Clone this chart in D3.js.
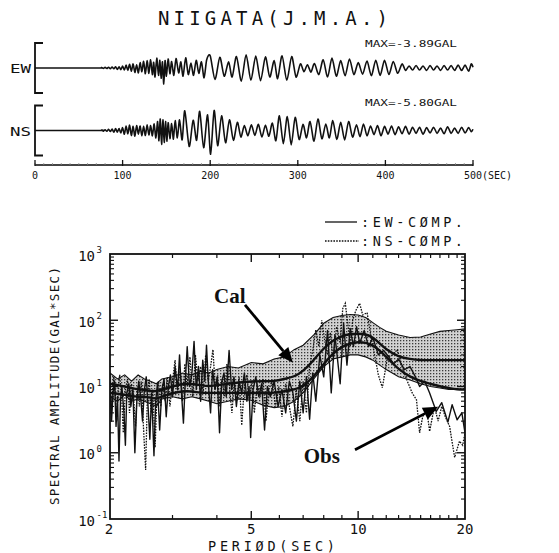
<!DOCTYPE html>
<html><head><meta charset="utf-8">
<script src="https://cdn.jsdelivr.net/npm/d3@7"></script>
<style>
html,body{margin:0;padding:0;background:#fff;}
svg{display:block;}
text{font-family:"DejaVu Sans Mono",monospace;fill:#111;}
</style></head>
<body>
<svg id="c" width="559" height="553"></svg>
<script>
// ---------------- DATA ----------------
const title = "NIIGATA(J.M.A.)";
const timeTicks = [0,100,200,300,400,500];
const maxEW = "MAX=-3.89GAL";
const maxNS = "MAX=-5.80GAL";

// accelerogram extrema [time (s), acceleration (gal)]
const waveEW = [[0,0],[70,0],[76,0.1],[78,-0.1],[80,0.15],[82,-0.12],[84,0.2],[86,-0.2],[88,0.25],[90,-0.2],[92,0.3],[94,-0.35],[96,0.3],[98,-0.4],[100,0.45],
[102,-0.5],[104,0.7],[106,-0.6],[108,0.9],[110,-0.8],[112,1.0],[114,-1.1],[116,0.8],[118,-1.2],[120,1.3],[122,-0.9],[124,1.6],[126,-1.4],
[128,1.8],[130,-1.3],[132,2.0],[134,-1.6],[135.5,1.4],[137,-2.2],[139,2.4],[141,-1.8],[142.5,1.9],[144,-2.5],[145.5,1.5],[147,-3.89],[148.5,1.8],[150,-2.0],[152,2.2],[154,-1.4],[156,1.6],[158.5,-1.8],
[161,2.3],[164,-1.2],[166.5,1.5],[169,-2.0],[172,2.5],[175,-1.6],[178,1.2],[181,-1.8],[184,1.9],[187,-1.3],[190,1.5],[193,-2.4],[196,2.0],
[200,3.0],[205.5,-2.8],[211,2.6],[216,-2.0],[221,1.5],[225,-2.2],[230,2.8],[235.5,-3.2],[241,3.2],[246.5,-3.0],[252,2.9],[257.5,-3.1],[263,2.7],[268,-2.2],[273,1.8],[277,-2.6],[282,3.0],[287.5,-3.0],[293,2.8],[298,-2.2],
[303,1.0],[307,-0.9],[311,0.8],[315,-1.0],[319,1.1],
[324,-1.6],[329,2.0],[334,-2.2],[339,2.4],[344,-2.0],[349,1.8],[354,-1.9],[359,2.2],[364,-1.6],[369,1.3],
[374,-1.5],[379,1.7],[384,-1.9],[389,1.9],[394,-1.8],[399,1.9],[404,-1.6],[409,1.6],[414,-1.3],[419,1.0],
[423,-0.6],[427,0.5],[431,-0.5],[435,0.6],[439,-0.5],[443,0.5],[447,-0.6],[451,0.6],[455,-0.5],[459,0.5],[463,-0.6],[467,0.6],[471,-0.5],[475,0.6],[479,-0.6],[483,0.7],[487,-0.6],[491,0.7],[495,-0.8],[498,1.0],[500,0.2]];

const waveNS = [[0,0],[72,0],[76,0.1],[78,-0.15],[80,0.2],[82,-0.2],[84,0.3],[86,-0.25],[88,0.35],[90,-0.4],[92,0.45],[94,-0.4],[96,0.5],[98,-0.6],[100,0.7],
[102,-0.9],[104,1.1],[106,-0.8],[108,1.3],[110,-1.2],[112,1.0],[114,-1.4],[116,1.2],[118,-0.9],[120,1.1],[122,-1.3],[124,1.0],[126,-1.2],[128,1.4],[130,-1.1],[132,1.2],[134,-1.3],[136,1.6],[138,-1.8],
[140,2.2],[141.5,-2.5],[143,2.8],[144.5,-3.4],[146,2.6],[147.5,-2.9],[149,2.2],[150.5,-2.6],[152,1.9],[154,-2.0],[156,1.7],[158,-2.1],[160,2.4],[162.5,-1.8],[165,2.6],[168,-2.3],
[171,4.8],[176,-3.9],[180.5,2.5],[184.5,-2.4],[188,4.7],[192.5,-4.2],[197,3.8],[200.5,-5.8],[204.5,4.9],[208.5,-3.7],[213,3.6],[217.5,-3.0],[222,2.6],[226.5,-2.4],[231,2.0],[235,-1.6],
[239,1.2],[243,-1.3],[247,1.4],[251,-1.2],[255,1.5],[259,-1.6],[263,1.3],[267,-1.4],[271,1.8],[275,-2.5],[279,3.6],[283.5,-3.2],[288,3.4],[292.5,-3.5],[297,3.2],[301.5,-2.2],
[306,1.5],[310,-1.8],[314,2.2],[318.5,-2.6],[323,2.8],[327.5,-2.0],[332,1.6],[336,-1.8],[340,2.4],[344.5,-2.2],[349,2.0],[353.5,-2.3],[358,2.2],[362.5,-1.6],[367,1.4],[371,-1.5],[375,1.6],[379,-1.3],
[383,1.1],[387,-1.0],[391,1.2],[395,-1.3],[399,1.0],[403,-0.9],[407,1.1],[411,-1.0],[415,0.9],[419,-0.8],[423,1.0],[427,-0.9],[431,0.8],[435,-0.7],[439,0.8],[443,-0.9],[447,0.7],[451,-0.6],[455,0.8],[459,-0.7],[463,0.6],[467,-0.8],[471,0.9],[475,-0.7],[479,0.6],[483,-0.7],[487,0.8],[491,-0.6],[495,0.7],[498,-0.3],[500,0.3]];

// spectral plot
const periodTicks = [2,5,10,20];
const ampTicks = [0.1,1,10,100,1000];
const calT     = [2.0,2.1,2.2,2.3,2.4,2.5,2.6,2.7,2.8,3.0,3.2,3.4,3.6,3.8,4.0,4.3,4.6,5.0,5.4,5.8,6.2,6.6,7.0,7.5,8.0,8.5,9.0,9.5,10,10.5,11,11.5,12,13,14,15,16,17,18,19,20];
const calUpper = [16,13,15,12,15,13,12,11,13,14,16,15,17,16,18,20,19,23,22,26,28,36,42,60,90,110,118,122,120,110,92,78,68,60,55,56,62,68,70,72,74];
const calLower = [7,6,7.5,6,6.5,6,5.5,5,6.5,7,6.5,7,6.5,6,5.5,6,6.5,6.2,5.2,4.8,5.0,6.0,8,13,20,26,28,30,30,28,25,21,18,14,12.5,11,10,9.5,9,9,9];
const calEW    = [11,10.5,10,9.5,9,9,8.5,8.5,9,10,11,11,10.5,10,10.5,11,11.5,12,12,12,13,14,17,25,38,50,58,62,63,62,55,45,36,28,26,25,25,25,25,25,25];
const calNS    = [8,7.8,7.5,7.2,7,7,6.8,6.5,7,8,8.5,8.5,8,8,8,8,8,8,8,8,8.5,9,10,14,22,32,40,45,47,46,42,35,28,18,14,12,11,10,9.5,9,9];

// observed spectra [period (s), amplitude (gal*sec)]
const obsEW = [[2.00,9],[2.02,3],[2.04,8],[2.06,12],[2.08,2.5],[2.10,7],[2.12,0.75],[2.14,6],[2.16,10],[2.19,4],[2.21,1.3],[2.23,8],[2.26,11],[2.29,5],[2.32,9],[2.35,1.0],[2.38,6],[2.41,12],[2.44,7],[2.47,3],[2.50,9],[2.53,14],[2.56,5],[2.59,1.6],[2.62,8],[2.66,0.9],[2.69,6],[2.72,11],[2.76,2.2],[2.80,9],[2.84,13],[2.88,3.5],[2.92,10],[2.96,15],[3.00,7],[3.05,20],[3.10,9],[3.14,30],[3.18,8],[3.22,2.8],[3.26,12],[3.30,40],[3.35,10],[3.40,15],[3.45,48],[3.50,9],[3.55,20],[3.60,6],[3.65,25],[3.70,12],[3.74,42],[3.79,10],[3.84,4],[3.89,18],[3.95,9],[4.01,14],[4.07,2.0],[4.13,12],[4.19,16],[4.25,7],[4.33,35],[4.40,9],[4.47,14],[4.54,5],[4.62,12],[4.70,8],[4.78,16],[4.86,6],[4.93,10],[4.98,1.7],[5.06,9],[5.15,14],[5.25,7],[5.35,11],[5.45,2.2],[5.55,10],[5.66,7],[5.80,12],[5.95,5],[6.10,9],[6.25,4],[6.40,12],[6.55,8],[6.70,3.0],[6.85,12],[7.00,4],[7.15,14],[7.30,3.2],[7.45,16],[7.60,6],[7.80,30],[8.00,14],[8.20,70],[8.40,8],[8.60,60],[8.90,11],[9.10,90],[9.30,21],[9.50,75],[9.70,40],[9.90,80],[10.1,45],[10.4,70],[10.7,40],[11.0,55],[11.4,30],[11.8,35],[12.2,28],[12.6,22],[13.0,26],[13.5,18],[14.0,20],[14.5,14],[14.9,10],[15.4,12],[15.9,8],[16.6,4.2],[17.2,5.7],[17.9,2.9],[18.4,5.3],[19.0,3.15],[19.6,4.0],[20.0,2.0]];

const obsNS = [[2.00,12],[2.02,5],[2.05,14],[2.07,8],[2.09,3],[2.11,10],[2.13,15],[2.16,6],[2.18,2.0],[2.21,9],[2.24,13],[2.27,4],[2.30,11],[2.33,7],[2.36,2.5],[2.39,10],[2.42,5],[2.45,12],[2.48,3],[2.52,0.55],[2.55,8],[2.58,13],[2.61,4],[2.64,9],[2.68,1.2],[2.71,7],[2.74,12],[2.78,5],[2.82,11],[2.86,6],[2.90,14],[2.95,5],[3.00,12],[3.05,25],[3.10,8],[3.15,18],[3.20,6],[3.25,22],[3.30,10],[3.36,28],[3.42,7],[3.48,30],[3.54,12],[3.60,20],[3.66,8],[3.72,30],[3.78,12],[3.84,20],[3.90,36],[3.96,9],[4.02,15],[4.08,5],[4.14,13],[4.20,7],[4.27,22],[4.34,10],[4.41,4],[4.48,12],[4.55,6],[4.62,14],[4.70,2.6],[4.78,10],[4.86,15],[4.94,6],[5.02,12],[5.10,4],[5.20,11],[5.30,7],[5.40,13],[5.50,3],[5.60,9],[5.72,12],[5.85,5],[5.98,10],[6.10,3.5],[6.25,11],[6.40,5],[6.55,2.5],[6.70,9],[6.85,3],[7.00,12],[7.15,4],[7.30,20],[7.45,35],[7.60,72],[7.75,40],[7.90,100],[8.05,50],[8.20,30],[8.35,65],[8.50,25],[8.70,80],[8.90,45],[9.05,150],[9.20,180],[9.35,90],[9.50,40],[9.65,100],[9.85,140],[10.1,180],[10.3,120],[10.6,130],[10.85,60],[11.1,32],[11.4,15],[11.7,9.6],[12.1,28],[12.5,30],[12.9,36],[13.3,20],[13.7,12.7],[14.2,8],[14.6,6.3],[14.9,2.0],[15.2,3.5],[15.6,4.5],[15.9,2.1],[16.4,5],[16.8,3],[17.2,5],[17.6,3.5],[18.1,2.5],[18.7,0.85],[19.3,1.5],[19.7,1.3],[20.0,2.0]];

// annotation anchors [period, amplitude]
const calLabel = [4.35,235], calArrow = [[4.8,171],[6.55,22.8]];
const obsLabel = [7.9,0.9],  obsArrow = [[9.8,1.11],[16.8,4.95]];

// ---------------- DRAW ----------------
const svg = d3.select("#c");

// ---- top: accelerograms ----
const xT = d3.scaleLinear().domain([0,500]).range([35,473]);
const yEW = d3.scaleLinear().domain([-6.1,6.1]).range([93,43]);
const yNS = d3.scaleLinear().domain([-6.1,6.1]).range([155.5,105.5]);

svg.append("text").attr("x",158).attr("y",25).attr("font-size",19)
  .attr("textLength",230).attr("lengthAdjust","spacing").text(title);

function bracket(y0,y1){
  svg.append("path").attr("d",`M43,${y0}H35V${y1}H43`).attr("fill","none")
    .attr("stroke","#111").attr("stroke-width",1.8);
}
bracket(yEW(6.1),yEW(-6.1));
bracket(yNS(6.1),yNS(-6.1));
svg.append("text").attr("x",10).attr("y",yEW(0)+5).attr("font-size",13)
  .attr("textLength",21).attr("lengthAdjust","spacingAndGlyphs").text("EW");
svg.append("text").attr("x",10).attr("y",yNS(0)+5).attr("font-size",13)
  .attr("textLength",21).attr("lengthAdjust","spacingAndGlyphs").text("NS");
svg.append("text").attr("x",365).attr("y",46.5).attr("font-size",9.5)
  .attr("textLength",92).attr("lengthAdjust","spacingAndGlyphs").text(maxEW);
svg.append("text").attr("x",365).attr("y",105.5).attr("font-size",9.5)
  .attr("textLength",92).attr("lengthAdjust","spacingAndGlyphs").text(maxNS);

const wl = y => d3.line().x(d=>xT(d[0])).y(d=>y(d[1])).curve(d3.curveCardinal.tension(0.2));
svg.append("path").datum(waveEW).attr("d",wl(yEW)).attr("fill","none")
  .attr("stroke","#111").attr("stroke-width",1.6).attr("stroke-linejoin","round");
svg.append("path").datum(waveNS).attr("d",wl(yNS)).attr("fill","none")
  .attr("stroke","#111").attr("stroke-width",1.6).attr("stroke-linejoin","round");

// time axis
const tAx = svg.append("g").attr("transform","translate(0,165)");
tAx.append("line").attr("x1",xT(0)).attr("x2",xT(500)).attr("stroke","#444").attr("stroke-width",1.8);
tAx.selectAll(".mt").data(d3.range(0,501,10)).join("line")
  .attr("x1",d=>xT(d)).attr("x2",d=>xT(d)).attr("y1",0).attr("y2",-2)
  .attr("stroke","#888").attr("stroke-width",0.8);
tAx.selectAll(".Mt").data(timeTicks).join("line")
  .attr("x1",d=>xT(d)).attr("x2",d=>xT(d)).attr("y1",1).attr("y2",-5)
  .attr("stroke","#111").attr("stroke-width",1.3);
tAx.selectAll(".tl").data(timeTicks).join("text")
  .attr("x",d=>xT(d)).attr("y",14).attr("font-size",10).attr("text-anchor","middle")
  .text(d=>d);
tAx.append("text").attr("x",xT(500)+9).attr("y",14).attr("font-size",10).text("(SEC)");

// ---- bottom: spectra ----
const xP = d3.scaleLog().domain([2,20]).range([110,465]);
const yA = d3.scaleLog().domain([0.1,1000]).range([519,254]);

const defs = svg.append("defs");
const pat = defs.append("pattern").attr("id","stip").attr("width",3).attr("height",3)
  .attr("patternUnits","userSpaceOnUse");
pat.append("rect").attr("width",3).attr("height",3).attr("fill","#d2d2d2");
pat.append("rect").attr("x",1).attr("y",1).attr("width",1.3).attr("height",1.3).attr("fill","#3a3a3a");
defs.append("clipPath").attr("id","box").append("rect")
  .attr("x",110).attr("y",254).attr("width",355).attr("height",265);

const plot = svg.append("g").attr("clip-path","url(#box)");
const band = calT.map((t,i)=>[t,calLower[i],calUpper[i]]);
plot.append("path").datum(band)
  .attr("d",d3.area().x(d=>xP(d[0])).y0(d=>yA(d[1])).y1(d=>yA(d[2])))
  .attr("fill","url(#stip)").attr("stroke","#111").attr("stroke-width",1.1);

const sl = d3.line().x(d=>xP(d[0])).y(d=>yA(d[1]));
plot.append("path").datum(calT.map((t,i)=>[t,calEW[i]])).attr("d",sl.curve(d3.curveBasis))
  .attr("fill","none").attr("stroke","#111").attr("stroke-width",2.4);
plot.append("path").datum(calT.map((t,i)=>[t,calNS[i]])).attr("d",sl.curve(d3.curveBasis))
  .attr("fill","none").attr("stroke","#111").attr("stroke-width",2.4);
const ol = d3.line().x(d=>xP(d[0])).y(d=>yA(d[1]));
plot.append("path").datum(obsNS).attr("d",ol).attr("fill","none")
  .attr("stroke","#111").attr("stroke-width",1.3).attr("stroke-dasharray","1.6,1.2");
plot.append("path").datum(obsEW).attr("d",ol).attr("fill","none")
  .attr("stroke","#111").attr("stroke-width",1.4).attr("stroke-linejoin","round");

// frame & ticks
svg.append("rect").attr("x",110).attr("y",254).attr("width",355).attr("height",265)
  .attr("fill","none").attr("stroke","#111").attr("stroke-width",1.8);
const minorP = d3.range(3,20).filter(v=>v!==5&&v!==10);
const majorP = [5,10];
function pTicks(y,dir){
  svg.selectAll(null).data(minorP).join("line").attr("x1",d=>xP(d)).attr("x2",d=>xP(d))
    .attr("y1",y).attr("y2",y+dir*4).attr("stroke","#111").attr("stroke-width",1.2);
  svg.selectAll(null).data(majorP).join("line").attr("x1",d=>xP(d)).attr("x2",d=>xP(d))
    .attr("y1",y).attr("y2",y+dir*8).attr("stroke","#111").attr("stroke-width",1.4);
}
pTicks(519,-1); pTicks(254,1);
const minorA = [];
[0.1,1,10,100].forEach(b=>{for(let k=2;k<=9;k++) minorA.push(b*k);});
const majorA = [1,10,100];
function aTicks(x,dir){
  svg.selectAll(null).data(minorA).join("line").attr("y1",d=>yA(d)).attr("y2",d=>yA(d))
    .attr("x1",x).attr("x2",x+dir*4).attr("stroke","#111").attr("stroke-width",1.1);
  svg.selectAll(null).data(majorA).join("line").attr("y1",d=>yA(d)).attr("y2",d=>yA(d))
    .attr("x1",x).attr("x2",x+dir*8).attr("stroke","#111").attr("stroke-width",1.4);
}
aTicks(110,1); aTicks(465,-1);

// tick labels
svg.selectAll(null).data(periodTicks).join("text")
  .attr("x",d=>xP(d)-(d===2?1:0)).attr("y",534).attr("font-size",14).attr("text-anchor","middle")
  .text(d=>d);
svg.selectAll(null).data(ampTicks).join("text")
  .attr("x",95).attr("y",d=>yA(d)+6.5).attr("font-size",14).attr("text-anchor","end")
  .text("10");
svg.selectAll(null).data(ampTicks).join("text")
  .attr("x",96.5).attr("y",d=>yA(d)-1).attr("font-size",9)
  .text(d=>Math.round(Math.log10(d)));

svg.append("text").attr("x",208).attr("y",551).attr("font-size",13.5)
  .attr("textLength",127).attr("lengthAdjust","spacing").text("PERIØD(SEC)");
svg.append("text").attr("transform","translate(59,505) rotate(-90)").attr("font-size",12.5)
  .attr("textLength",238).attr("lengthAdjust","spacing").text("SPECTRAL AMPLITUDE(GAL*SEC)");

// legend
svg.append("line").attr("x1",325).attr("x2",357).attr("y1",222).attr("y2",222)
  .attr("stroke","#111").attr("stroke-width",1.3);
svg.append("line").attr("x1",325).attr("x2",359).attr("y1",241).attr("y2",241)
  .attr("stroke","#111").attr("stroke-width",1.3).attr("stroke-dasharray","1.6,1.2");
svg.append("text").attr("x",361).attr("y",227).attr("font-size",13.5)
  .attr("textLength",102).attr("lengthAdjust","spacing").text(":EW-CØMP.");
svg.append("text").attr("x",361).attr("y",246).attr("font-size",13.5)
  .attr("textLength",102).attr("lengthAdjust","spacing").text(":NS-CØMP.");

// annotations
function arrow(p){
  const [a,b] = p.map(d=>[xP(d[0]),yA(d[1])]);
  const ang = Math.atan2(b[1]-a[1],b[0]-a[0]);
  const L=15, W=6.5;
  const bx=b[0]-L*Math.cos(ang), by=b[1]-L*Math.sin(ang);
  svg.append("line").attr("x1",a[0]).attr("y1",a[1]).attr("x2",bx).attr("y2",by)
    .attr("stroke","#000").attr("stroke-width",2.8);
  svg.append("path").attr("d",`M${b[0]},${b[1]}L${bx-W*Math.sin(ang)},${by+W*Math.cos(ang)}L${bx+W*Math.sin(ang)},${by-W*Math.cos(ang)}Z`)
    .attr("fill","#000");
}
arrow(calArrow); arrow(obsArrow);
svg.append("text").attr("x",xP(calLabel[0])).attr("y",yA(calLabel[1])+7).attr("text-anchor","middle")
  .style("font-family","'Liberation Serif',serif").attr("font-weight","bold").attr("font-size",21).text("Cal");
svg.append("text").attr("x",xP(obsLabel[0])).attr("y",yA(obsLabel[1])+7).attr("text-anchor","middle")
  .style("font-family","'Liberation Serif',serif").attr("font-weight","bold").attr("font-size",21).text("Obs");
</script>
</body></html>
